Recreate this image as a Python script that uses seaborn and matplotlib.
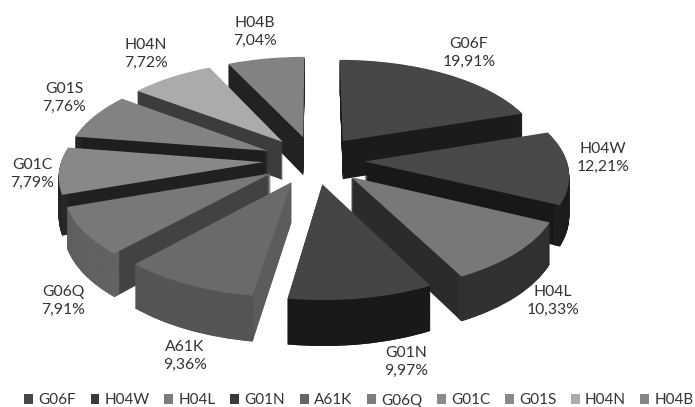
import numpy as np
import matplotlib
matplotlib.use("Agg")
import matplotlib.pyplot as plt
from matplotlib.transforms import Transform
from matplotlib.patches import Patch
import seaborn as sns

categories = ["G06F", "H04W", "H04L", "G01N", "A61K", "G06Q", "G01C", "G01S", "H04N", "H04B"]
shares = [19.91, 12.21, 10.33, 9.97, 9.36, 7.91, 7.79, 7.76, 7.72, 7.04]

top_colors = ["#474747", "#484848", "#787878", "#454545", "#6a6a6a", "#787878", "#888888", "#828282", "#ababab", "#828282"]
side_colors = ["#1b1b1b", "#181818", "#2b2b2b", "#1a1a1a", "#5c5c5c", "#424242", "#202020", "#1e1e1e", "#3c3c3c", "#222222"]
rim_colors = ["#1f1f1f", "#202020", "#333333", "#191919", "#545454", "#6c6c6c", "#2a2a2a", "#2a2a2a", "#3c3c3c", "#222222"]
legend_colors = ["#474747", "#3a3a3a", "#7c7c7c", "#3a3a3a", "#666666", "#7c7c7c", "#8a8a8a", "#8a8a8a", "#ababab", "#858585"]
label_xy = [(469, 53), (603, 158), (553, 301), (406, 362), (185, 356), (63, 301), (32, 174), (64, 98), (146, 54), (255, 32)]

sns.set_theme(style="white")
plt.rcParams["font.family"] = ["Lato", "DejaVu Sans"]


class Perspective(Transform):
    input_dims = output_dims = 2
    is_separable = False
    has_inverse = False

    def __init__(self, z=0.0):
        super().__init__()
        self.z = z

    def transform_non_affine(self, values):
        v = np.asarray(values, float)
        w = 1 + 0.121 * v[:, 1]
        sx = 314 + 202 * v[:, 0] / w
        sy = 160 - (95.4 * v[:, 1] + 39 * self.z) / w
        return np.column_stack([sx, sy])


fig = plt.figure(figsize=(6.95, 4.07), dpi=100, facecolor="white")
ax = fig.add_axes([0, 0, 1, 1])

explode = [0.25] * len(shares)
mids = 90 - (np.cumsum(shares) - np.array(shares) / 2) * 3.6
rank = np.argsort(np.argsort(-np.sin(np.radians(mids))))


def layer(colors, z, base, width=None):
    props = dict(linewidth=0)
    if width:
        props["width"] = width
    wedges, _ = ax.pie(shares, explode=explode, colors=colors, startangle=90,
                       counterclock=False, radius=1.0, wedgeprops=props, frame=False)
    tr = Perspective(z) + ax.transData
    for i, w in enumerate(wedges):
        w.set_transform(tr)
        w.set_zorder(rank[i] * 1000 + base)
        w.set_clip_on(False)


for k, z in enumerate(np.linspace(-1, -0.02, 48)):
    layer(side_colors, z, k * 2)
    layer(rim_colors, z, k * 2 + 1, width=0.03)
layer(top_colors, 0.0, 500)

ax.set_aspect("auto")
ax.set_xlim(0, 695)
ax.set_ylim(407, 0)
ax.axis("off")

for name, val, (x, y) in zip(categories, shares, label_xy):
    ax.text(x, y, f"{name}\n{val:.2f}%".replace(".", ","), ha="center", va="center",
            fontsize=11.3, color="#333333", linespacing=1.3, zorder=20000)

handles = [Patch(facecolor=c, edgecolor="none", label=n) for n, c in zip(categories, legend_colors)]
ax.legend(handles=handles, ncol=10, loc="center", bbox_to_anchor=(359 / 695, 1 - 400.5 / 407),
          frameon=False, fontsize=11.0, labelcolor="#333333", handlelength=0.58, handleheight=0.58,
          handletextpad=0.35, columnspacing=0.95, borderaxespad=0, borderpad=0)

fig.savefig("out.png", dpi=100)
